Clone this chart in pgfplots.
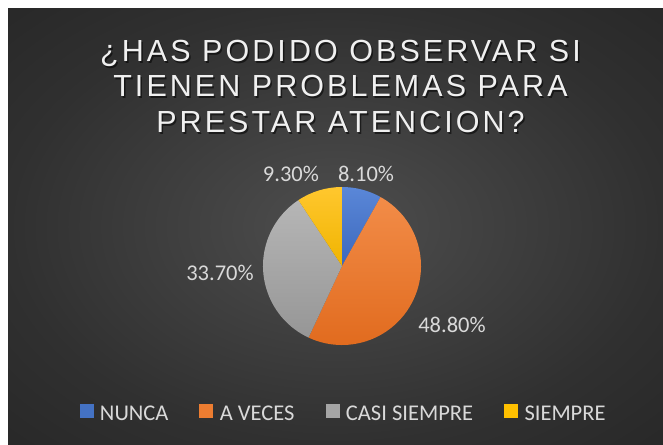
\documentclass[border=0pt]{standalone}
\usepackage{pgfplots}
\pgfplotsset{compat=1.18}
\usepackage{pgfplotstable}
\usepackage{fontspec}
\setmainfont{Carlito}
\newfontfamily\titlefont[LetterSpace=10]{Liberation Sans}

\definecolor{bgin}{HTML}{4E4E4E}
\definecolor{bgmid}{HTML}{303030}
\definecolor{bgout}{HTML}{282828}
\definecolor{txt}{HTML}{D9D9D9}
\definecolor{ttl}{HTML}{F0F0F0}
\definecolor{bTop}{HTML}{5A87D8}\definecolor{bBot}{HTML}{3C68BC}
\definecolor{oTop}{HTML}{F28C48}\definecolor{oBot}{HTML}{E0691C}
\definecolor{gTop}{HTML}{B6B6B6}\definecolor{gBot}{HTML}{969696}
\definecolor{yTop}{HTML}{FFC72E}\definecolor{yBot}{HTML}{F0B400}
\definecolor{bLeg}{HTML}{4472C4}\definecolor{oLeg}{HTML}{ED7D31}
\definecolor{gLeg}{HTML}{A5A5A5}\definecolor{yLeg}{HTML}{FFC000}

\pgfdeclareradialshading{bgshade}{\pgfpoint{0bp}{0bp}}{color(0bp)=(bgin); color(25bp)=(bgmid); color(36bp)=(bgout); color(50bp)=(bgout)}

\pgfplotstableread{
label value
NUNCA 8.1
{A VECES} 48.8
{CASI SIEMPRE} 33.7
SIEMPRE 9.3
}\piedata

\begin{document}
\begin{tikzpicture}[x=1pt,y=1pt]
\useasboundingbox (0,0) rectangle (663,444);
\fill[white] (0,0) rectangle (663,444);
\shade[shading=bgshade] (8,0) rectangle (663,435);

% title
\foreach \t/\yy in {{¿HAS PODIDO OBSERVAR SI}/382,{TIENEN PROBLEMAS PARA}/347,{PRESTAR ATENCION?}/311}{
  \node[anchor=base, text=black, opacity=0.55, font=\titlefont\fontsize{30.5}{36}\selectfont, inner sep=0] at (342,\yy-1.5) {\t};
  \node[anchor=base, text=ttl, font=\titlefont\fontsize{30.5}{36}\selectfont, inner sep=0] at (340.5,\yy) {\t};
}

\pgfplotstablegetelem{0}{value}\of\piedata \let\va\pgfplotsretval
\pgfplotstablegetelem{1}{value}\of\piedata \let\vb\pgfplotsretval
\pgfplotstablegetelem{2}{value}\of\piedata \let\vc\pgfplotsretval
\pgfplotstablegetelem{3}{value}\of\piedata \let\vd\pgfplotsretval
\pgfmathsetmacro\tot{\va+\vb+\vc+\vd}
\pgfmathsetmacro\aA{90}
\pgfmathsetmacro\aB{\aA-360*(\va/\tot)}
\pgfmathsetmacro\aC{\aB-360*(\vb/\tot)}
\pgfmathsetmacro\aD{\aC-360*(\vc/\tot)}
\pgfmathsetmacro\aE{\aD-360*(\vd/\tot)}

\begin{axis}[at={(342pt,178pt)}, anchor=origin,
  scale only axis, width=158pt, height=158pt,
  xmin=-1, xmax=1, ymin=-1, ymax=1, hide axis, clip=false,
  legend columns=4,
  legend style={draw=none, fill=none, at={(0.51,-0.437)}, anchor=center,
    font=\fontsize{22.5}{26}\selectfont, text=txt,
    /tikz/every even column/.append style={column sep=29pt},
    /tikz/every odd column/.append style={column sep=5pt}},
]
\shade[top color=bTop, bottom color=bBot] (axis cs:0,0) -- (axis cs:{cos(\aA)},{sin(\aA)}) arc[start angle=\aA, end angle=\aB, radius=79pt] -- cycle;
\shade[top color=oTop, bottom color=oBot] (axis cs:0,0) -- (axis cs:{cos(\aB)},{sin(\aB)}) arc[start angle=\aB, end angle=\aC, radius=79pt] -- cycle;
\shade[top color=gTop, bottom color=gBot] (axis cs:0,0) -- (axis cs:{cos(\aC)},{sin(\aC)}) arc[start angle=\aC, end angle=\aD, radius=79pt] -- cycle;
\shade[top color=yTop, bottom color=yBot] (axis cs:0,0) -- (axis cs:{cos(\aD)},{sin(\aD)}) arc[start angle=\aD, end angle=\aE, radius=79pt] -- cycle;

\node[text=txt, font=\fontsize{22.5}{26}\selectfont] at (axis cs:0.304,1.165) {8.10\%};
\node[text=txt, font=\fontsize{22.5}{26}\selectfont] at (axis cs:-0.646,1.165) {9.30\%};
\node[text=txt, font=\fontsize{22.5}{26}\selectfont] at (axis cs:-1.544,-0.089) {33.70\%};
\node[text=txt, font=\fontsize{22.5}{26}\selectfont] at (axis cs:1.392,-0.747) {48.80\%};

\addlegendimage{legend image code/.code={\fill[bLeg] (0pt,-3pt) rectangle (13pt,10pt);}}
\addlegendentry{NUNCA}
\addlegendimage{legend image code/.code={\fill[oLeg] (0pt,-3pt) rectangle (13pt,10pt);}}
\addlegendentry{A VECES}
\addlegendimage{legend image code/.code={\fill[gLeg] (0pt,-3pt) rectangle (13pt,10pt);}}
\addlegendentry{CASI SIEMPRE}
\addlegendimage{legend image code/.code={\fill[yLeg] (0pt,-3pt) rectangle (13pt,10pt);}}
\addlegendentry{SIEMPRE}
\end{axis}
\end{tikzpicture}
\end{document}
